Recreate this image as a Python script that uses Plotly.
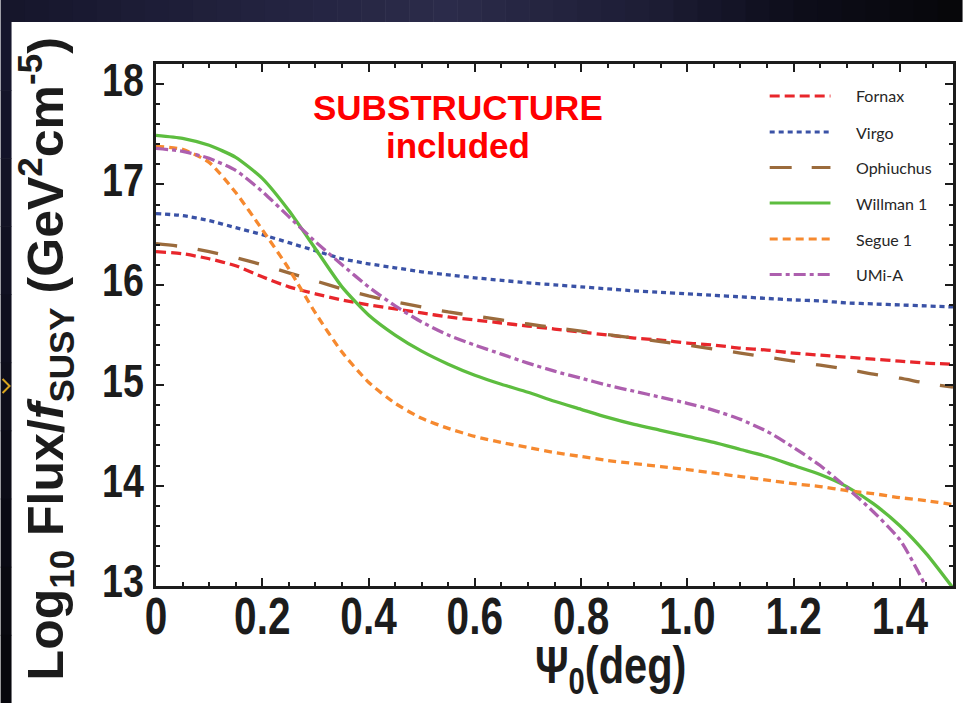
import plotly.graph_objects as go

# ---------------- data ----------------
PSI = [0.00, 0.05, 0.10, 0.15, 0.20, 0.25, 0.30, 0.35, 0.40, 0.45, 0.50,
       0.55, 0.60, 0.65, 0.70, 0.75, 0.80, 0.85, 0.90, 0.95, 1.00,
       1.05, 1.10, 1.15, 1.20, 1.25, 1.30, 1.35, 1.40, 1.45, 1.50]

FORNAX = [16.33, 16.31, 16.26, 16.19, 16.08, 15.98, 15.91, 15.85, 15.80, 15.76, 15.72,
          15.68, 15.65, 15.62, 15.59, 15.56, 15.53, 15.50, 15.47, 15.45, 15.42,
          15.40, 15.37, 15.35, 15.32, 15.30, 15.28, 15.26, 15.24, 15.22, 15.21]
VIRGO = [16.71, 16.69, 16.64, 16.57, 16.50, 16.42, 16.34, 16.26, 16.21, 16.17, 16.13,
         16.10, 16.07, 16.045, 16.02, 16.00, 15.98, 15.96, 15.94, 15.925, 15.91,
         15.895, 15.88, 15.865, 15.85, 15.84, 15.82, 15.81, 15.80, 15.79, 15.78]
OPHIUCHUS = [16.41, 16.38, 16.33, 16.27, 16.20, 16.12, 16.04, 15.96, 15.89, 15.83, 15.78,
             15.73, 15.69, 15.65, 15.61, 15.575, 15.54, 15.505, 15.47, 15.435, 15.40,
             15.36, 15.32, 15.28, 15.24, 15.20, 15.16, 15.11, 15.07, 15.02, 14.98]
WILLMAN1 = [17.49, 17.46, 17.39, 17.27, 17.06, 16.74, 16.36, 15.98, 15.70, 15.50, 15.34,
            15.21, 15.10, 15.01, 14.93, 14.84, 14.76, 14.68, 14.61, 14.55, 14.49,
            14.43, 14.36, 14.29, 14.20, 14.11, 13.99, 13.82, 13.60, 13.32, 12.98]
SEGUE1 = [17.38, 17.35, 17.22, 16.92, 16.55, 16.16, 15.72, 15.33, 15.03, 14.82, 14.67,
          14.57, 14.49, 14.43, 14.38, 14.33, 14.29, 14.25, 14.22, 14.19, 14.16,
          14.125, 14.09, 14.055, 14.02, 13.99, 13.95, 13.92, 13.88, 13.85, 13.81]
UMI_A = [17.36, 17.33, 17.26, 17.14, 16.93, 16.68, 16.43, 16.20, 15.98, 15.79, 15.63,
         15.50, 15.40, 15.31, 15.22, 15.14, 15.07, 15.00, 14.94, 14.88, 14.82,
         14.75, 14.66, 14.54, 14.38, 14.20, 13.98, 13.74, 13.46, 12.98, 12.30]

NAMES = ["Fornax", "Virgo", "Ophiuchus", "Willman 1", "Segue 1", "UMi-A"]
SERIES = [FORNAX, VIRGO, OPHIUCHUS, WILLMAN1, SEGUE1, UMI_A]

X_TICKS = [0, 0.2, 0.4, 0.6, 0.8, 1.0, 1.2, 1.4]
X_TICK_TEXT = ["0", "0.2", "0.4", "0.6", "0.8", "1.0", "1.2", "1.4"]
Y_TICKS = [13, 14, 15, 16, 17, 18]
Y_TICK_TEXT = ["13", "14", "15", "16", "17", "18"]

# ---------------- styles ----------------
COLORS = ["#e8262b", "#3a52a6", "#9b6b3c", "#5dbd3f", "#f6892f", "#ad5fae"]
DASHES = ["10px,5px", "5px,4px", "21px,21px", "solid", "8px,5px", "12px,4px,4px,4px"]
LEG_DASHES = ["10px,5px", "5px,4px", "22px,20px", "solid", "8px,5px", "12px,4px,4px,4px"]

W, H = 965, 703
ML, MR, MT, MB = 156, 9, 64, 117
PW, PH = W - ML - MR, H - MT - MB


def px(x):
    return (x - ML) / PW


def py(y):
    return (H - MB - y) / PH


SANS = "Liberation Sans, Arial, Helvetica, sans-serif"
AXC = "#1c1c1c"

fig = go.Figure()
for name, vals, c, d in zip(NAMES, SERIES, COLORS, DASHES):
    fig.add_trace(go.Scatter(
        x=PSI, y=vals, mode="lines", name=name, showlegend=False,
        line=dict(color=c, width=3.3, dash=d, shape="spline", smoothing=0.6),
    ))

shapes = []


def hexmix(a, b, t):
    a = [int(a[i:i + 2], 16) for i in (1, 3, 5)]
    b = [int(b[i:i + 2], 16) for i in (1, 3, 5)]
    return "#%02x%02x%02x" % tuple(round(a[i] + (b[i] - a[i]) * t) for i in range(3))


# slide background (dark navy gradient strip on top, strip on the left)
STOPS = [(0, "#15152a"), (250, "#22223e"), (450, "#2b2b4a"), (650, "#1d1d35"), (800, "#0d0d1a"),
         (965, "#060609")]
NSEG = 40
for i in range(NSEG):
    xa = W * i / NSEG
    xb = W * (i + 1) / NSEG
    xm = (xa + xb) / 2
    for (p0, c0), (p1, c1) in zip(STOPS[:-1], STOPS[1:]):
        if p0 <= xm <= p1:
            col = hexmix(c0, c1, (xm - p0) / (p1 - p0))
            break
    shapes.append(dict(type="rect", xref="paper", yref="paper", x0=px(xa), x1=px(xb + 0.6),
                       y0=py(0), y1=py(22), fillcolor=col, line=dict(width=0), layer="below"))
for i in range(10):
    ya = 22 + (H - 22) * i / 10
    yb = 22 + (H - 22) * (i + 1) / 10
    col = hexmix("#16162c", "#07070d", i / 9)
    shapes.append(dict(type="rect", xref="paper", yref="paper", x0=px(0), x1=px(11),
                       y0=py(ya), y1=py(yb + 0.6), fillcolor=col, line=dict(width=0), layer="below"))
shapes.append(dict(type="path", xref="paper", yref="paper",
                   path=f"M {px(2)},{py(379)} L {px(9)},{py(386)} L {px(2)},{py(393)}",
                   line=dict(color="#d9a520", width=2), layer="above"))

annotations = []
# legend drawn as line samples + labels
LEG_Y = [96, 132, 167.5, 203, 239, 274.5]
for name, c, d, yy in zip(NAMES, COLORS, LEG_DASHES, LEG_Y):
    shapes.append(dict(type="line", xref="paper", yref="paper", x0=px(772), x1=px(833),
                       y0=py(yy), y1=py(yy), line=dict(color=c, width=3, dash=d)))
    annotations.append(dict(x=px(857), y=py(yy), xref="paper", yref="paper", text=name,
                            showarrow=False, xanchor="left", yanchor="middle",
                            font=dict(family="Lato, Open Sans, sans-serif", size=16, color="#262626")))

annotations.append(dict(x=px(459), y=py(107), xref="paper", yref="paper", text="SUBSTRUCTURE",
                        showarrow=False, xanchor="center", yanchor="middle",
                        font=dict(family=SANS, size=35, color="#ff0000", weight="bold")))
annotations.append(dict(x=px(459), y=py(145), xref="paper", yref="paper", text="included",
                        showarrow=False, xanchor="center", yanchor="middle",
                        font=dict(family=SANS, size=35, color="#ff0000", weight="bold")))

annotations.append(dict(x=px(45), y=py(359), xref="paper", yref="paper", textangle=-90,
                        text="Log<sub>10</sub> Flux/<i>f</i><sub>SUSY</sub> (GeV<sup>2</sup>cm<sup>-5</sup>)",
                        showarrow=False, xanchor="center", yanchor="middle",
                        font=dict(family=SANS, size=50, color=AXC, weight="bold")))
annotations.append(dict(x=px(612), y=py(669), xref="paper", yref="paper",
                        text="Ψ<sub>0</sub>(deg)",
                        showarrow=False, xanchor="center", yanchor="middle",
                        font=dict(family=SANS, size=52, color=AXC, weight="bold")))

axis_common = dict(showline=True, linewidth=2.5, linecolor=AXC, mirror="allticks",
                   ticks="inside", ticklen=8, tickwidth=2, tickcolor=AXC,
                   showgrid=False, zeroline=False, tickmode="array")

fig.update_layout(
    width=W, height=H,
    margin=dict(l=ML, r=MR, t=MT, b=MB, pad=0),
    paper_bgcolor="white", plot_bgcolor="white",
    xaxis=dict(range=[0, 1.5], tickvals=X_TICKS, ticktext=X_TICK_TEXT,
               tickfont=dict(family=SANS, size=52, color=AXC, weight="bold"),
               ticklabelstandoff=-17,
               minor=dict(tickmode="linear", tick0=0, dtick=0.05, ticks="inside",
                          ticklen=4, tickwidth=2, tickcolor=AXC, showgrid=False),
               **axis_common),
    yaxis=dict(range=[13, 18.2], tickvals=Y_TICKS, ticktext=Y_TICK_TEXT,
               tickfont=dict(family=SANS, size=47, color=AXC, weight="bold"),
               ticklabelshift=-5,
               minor=dict(tickmode="linear", tick0=13, dtick=0.2, ticks="inside",
                          ticklen=4, tickwidth=2, tickcolor=AXC, showgrid=False),
               **axis_common),
    shapes=shapes,
    annotations=annotations,
    showlegend=False,
)

POST = """
document.body.style.margin='0';
document.body.style.padding='0';
var gd=document.getElementById('{plot_id}');
function squeeze(nodes,f){nodes.forEach(function(t){var w=t.getComputedTextLength();
 if(w>0){t.setAttribute('textLength',(w*f).toFixed(2));t.setAttribute('lengthAdjust','spacingAndGlyphs');}});}
squeeze(gd.querySelectorAll('.xtick text'),0.78);
squeeze(gd.querySelectorAll('.ytick text'),0.8);
var ann=[];gd.querySelectorAll('.annotation-text').forEach(function(t){if(t.textContent.indexOf('deg')>=0){ann.push(t);}});
squeeze(ann,0.8);
"""

fig.write_html("out.html", post_script=POST, config={"displayModeBar": False})
